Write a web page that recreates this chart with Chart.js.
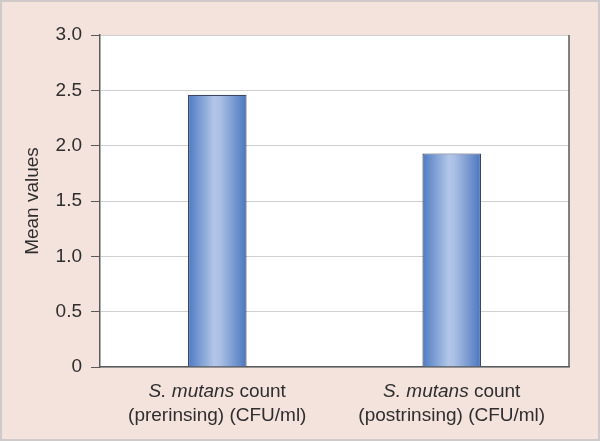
<!DOCTYPE html>
<html>
<head>
<meta charset="utf-8">
<script src="https://cdn.jsdelivr.net/npm/chart.js@4/dist/chart.umd.min.js"></script>
<style>
html,body{margin:0;padding:0;background:#f4e2dc;}
#wrap{width:600px;height:441px;position:relative;}
</style>
</head>
<body>
<div id="wrap"><canvas id="c" width="600" height="441"></canvas></div>
<script>
const categories = ["S. mutans count (prerinsing) (CFU/ml)", "S. mutans count (postrinsing) (CFU/ml)"];
const labelItalic = ["S. mutans", "S. mutans"];
const labelRest = [" count", " count"];
const labelLine2 = ["(prerinsing) (CFU/ml)", "(postrinsing) (CFU/ml)"];
const meanValues = [2.46, 1.93];
const yTicks = [0, 0.5, 1.0, 1.5, 2.0, 2.5, 3.0];
const yTitle = "Mean values";

const FONT = "'Liberation Sans', Arial, sans-serif";
const TXT = "#2e2e2e";
const FS = 19;

const decor = {
  id: 'decor',
  beforeDraw(chart) {
    const ctx = chart.ctx, a = chart.chartArea;
    ctx.save();
    ctx.fillStyle = '#f4e2dc';
    ctx.fillRect(0, 0, chart.width, chart.height);
    ctx.strokeStyle = '#cfcaca';
    ctx.lineWidth = 2;
    ctx.strokeRect(1, 1, chart.width - 2, chart.height - 2);
    ctx.fillStyle = '#ffffff';
    ctx.fillRect(a.left, a.top, a.right - a.left, a.bottom - a.top);
    ctx.restore();
  },
  beforeDatasetsDraw(chart) {
    const ctx = chart.ctx;
    const meta = chart.getDatasetMeta(0);
    meta.data.forEach(bar => {
      const l = bar.x - bar.width / 2, r = bar.x + bar.width / 2;
      const g = ctx.createLinearGradient(l, 0, r, 0);
      g.addColorStop(0, '#4d7ac2');
      g.addColorStop(0.45, '#b3c6e8');
      g.addColorStop(0.55, '#aabfe5');
      g.addColorStop(1, '#4a76be');
      bar.options = Object.assign({}, bar.options, { backgroundColor: g });
    });
  },
  afterDraw(chart) {
    const ctx = chart.ctx, a = chart.chartArea;
    ctx.save();
    ctx.strokeStyle = '#5a5a5a';
    ctx.lineWidth = 1.5;
    ctx.beginPath();
    ctx.moveTo(a.right, a.top);
    ctx.lineTo(a.right, a.bottom);
    ctx.stroke();
    const xs = chart.scales.x;
    ctx.fillStyle = TXT;
    ctx.textBaseline = 'alphabetic';
    categories.forEach((c, i) => {
      const cx = xs.getPixelForTick(i);
      ctx.font = 'italic ' + FS + 'px ' + FONT;
      const wi = ctx.measureText(labelItalic[i]).width;
      ctx.font = FS + 'px ' + FONT;
      const wr = ctx.measureText(labelRest[i]).width;
      let x0 = cx - (wi + wr) / 2;
      ctx.textAlign = 'left';
      ctx.font = 'italic ' + FS + 'px ' + FONT;
      ctx.fillText(labelItalic[i], x0, 397);
      ctx.font = FS + 'px ' + FONT;
      ctx.fillText(labelRest[i], x0 + wi, 397);
      ctx.textAlign = 'center';
      ctx.fillText(labelLine2[i], cx, 421);
    });
    ctx.restore();
  }
};

new Chart(document.getElementById('c'), {
  type: 'bar',
  data: {
    labels: categories,
    datasets: [{
      data: meanValues,
      backgroundColor: '#7d9fd6',
      borderColor: '#3c4660',
      borderWidth: 1.2,
      borderSkipped: 'bottom',
      barPercentage: 0.25,
      categoryPercentage: 1.0
    }]
  },
  options: {
    responsive: false,
    animation: false,
    devicePixelRatio: 1,
    layout: { padding: { left: 0, right: 31, top: 35, bottom: 0 } },
    plugins: { legend: { display: false }, tooltip: { enabled: false } },
    scales: {
      x: {
        grid: { display: false },
        border: { color: '#5a5a5a', width: 1.5 },
        ticks: { display: false },
        afterFit(s) { s.height = 74; }
      },
      y: {
        min: 0, max: 3,
        afterBuildTicks(s) { s.ticks = yTicks.map(v => ({ value: v })); },
        grid: { color: '#cfcfcf', lineWidth: 1, tickColor: '#5a5a5a', tickLength: 9, drawTicks: true },
        border: { color: '#5a5a5a', width: 1.5 },
        ticks: {
          padding: 9,
          color: TXT,
          font: { family: FONT, size: FS },
          callback: v => v === 0 ? '0' : Number(v).toFixed(1)
        },
        title: {
          display: true,
          text: yTitle,
          color: TXT,
          font: { family: FONT, size: FS },
          padding: { top: 21, bottom: 0 }
        },
        afterFit(s) { s.width = 100; }
      }
    }
  },
  plugins: [decor]
});
</script>
</body>
</html>
